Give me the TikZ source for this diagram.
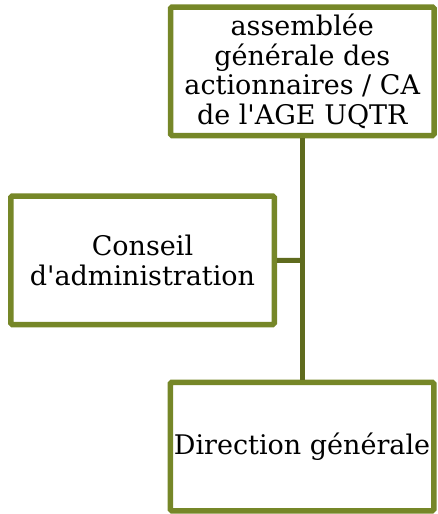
\documentclass[tikz,border=0pt]{standalone}
\usepackage{fontspec}
\setmainfont{DejaVu Serif}[Ligatures=TeXOff]
\definecolor{boxline}{RGB}{118,135,40}
\definecolor{conline}{RGB}{95,107,30}
\begin{document}
\begin{tikzpicture}[x=1pt,y=-1pt,
  orgbox/.style={draw=boxline,line width=5.5pt,rounded corners=1.5pt,fill=white,
    minimum width=263.5pt,minimum height=128.5pt,inner sep=0pt,align=center,
    font=\fontsize{27}{29.5}\selectfont},
  conn/.style={draw=conline,line width=5pt}]
\useasboundingbox (0,0) rectangle (438,514);
\node[orgbox] (top) at (302.25,71.25) {assembl\'ee\\g\'en\'erale des\\actionnaires / CA\\de l'AGE UQTR};
\node[orgbox] (ca) at (142.5,260.25) {Conseil\\d'administration};
\node[orgbox] (dg) at (302,446.5) {Direction g\'en\'erale};
\coordinate (j) at (302.5,260.5);
\draw[conn] (top.south -| j) -- (dg.north -| j);
\draw[conn] (ca.east) -- (j);
\end{tikzpicture}
\end{document}
